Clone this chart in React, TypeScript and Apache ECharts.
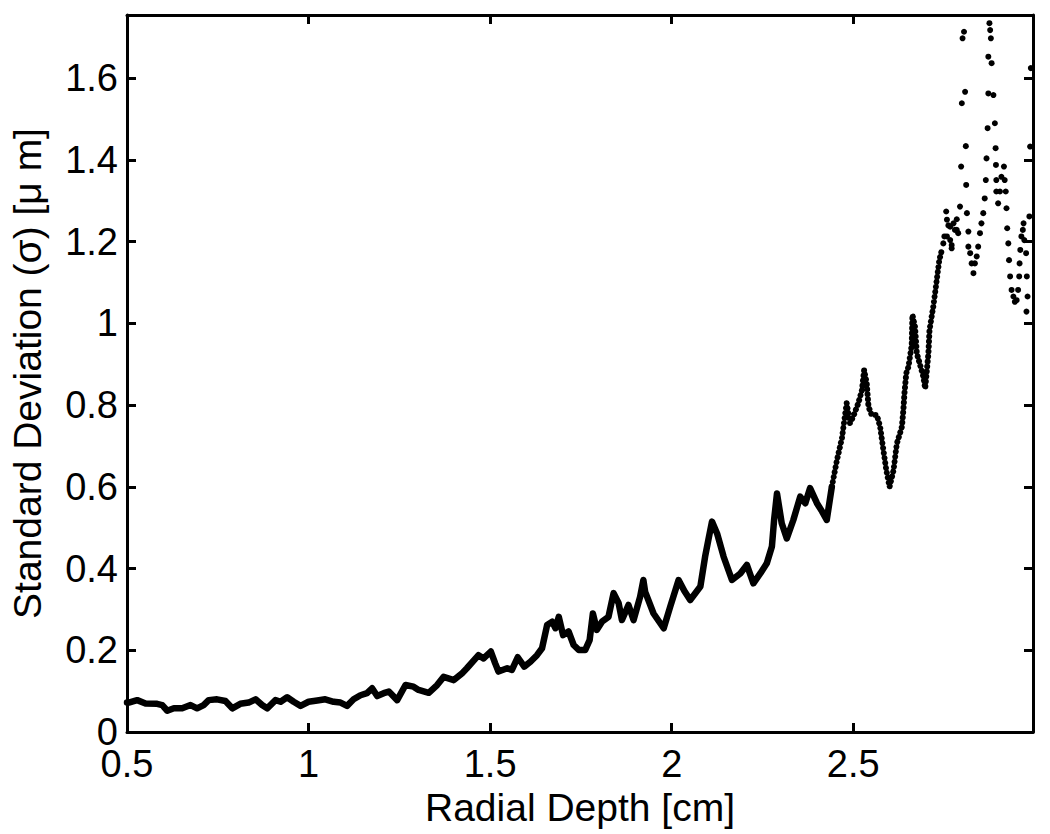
import React, { useEffect, useRef } from "react";
import * as echarts from "echarts";

// Axis definitions
const xMin = 0.5;
const xMax = 2.995;
const xStep = 0.5;
const yMin = 0;
const yMax = 1.755;
const yStep = 0.2;
const xTitle = "Radial Depth [cm]";
const yTitle = "Standard Deviation (σ) [μ m]";

// Dense band (x in cm, sigma in µm)
const denseTrace: [number, number][] = [
  [0.5, 0.072], [0.505, 0.072], [0.528, 0.078], [0.551, 0.07], [0.583, 0.069],
  [0.597, 0.066], [0.611, 0.052], [0.629, 0.058], [0.652, 0.058], [0.675, 0.066],
  [0.693, 0.058], [0.711, 0.066], [0.725, 0.078], [0.748, 0.08], [0.771, 0.076],
  [0.79, 0.058], [0.812, 0.069], [0.835, 0.072], [0.854, 0.08], [0.872, 0.066],
  [0.886, 0.058], [0.909, 0.078], [0.923, 0.074], [0.941, 0.085], [0.959, 0.074],
  [0.978, 0.064], [1.0, 0.074], [1.024, 0.077], [1.046, 0.08], [1.069, 0.074],
  [1.088, 0.072], [1.106, 0.064], [1.124, 0.08], [1.143, 0.09], [1.161, 0.095],
  [1.175, 0.107], [1.189, 0.088], [1.207, 0.095], [1.221, 0.099], [1.244, 0.078],
  [1.267, 0.115], [1.289, 0.111], [1.303, 0.103], [1.331, 0.096], [1.354, 0.115],
  [1.372, 0.135], [1.4, 0.127], [1.423, 0.144], [1.436, 0.156], [1.468, 0.188],
  [1.482, 0.18], [1.502, 0.197], [1.514, 0.168], [1.523, 0.148], [1.547, 0.156],
  [1.56, 0.152], [1.576, 0.183], [1.594, 0.16], [1.611, 0.172], [1.629, 0.188],
  [1.643, 0.205], [1.657, 0.262], [1.671, 0.27], [1.68, 0.254], [1.689, 0.282],
  [1.701, 0.237], [1.716, 0.246], [1.73, 0.213], [1.744, 0.201], [1.762, 0.201],
  [1.774, 0.225], [1.783, 0.29], [1.794, 0.25], [1.808, 0.27], [1.826, 0.282],
  [1.84, 0.34], [1.854, 0.315], [1.863, 0.274], [1.881, 0.311], [1.895, 0.274],
  [1.913, 0.331], [1.922, 0.372], [1.927, 0.343], [1.95, 0.29], [1.978, 0.254],
  [1.996, 0.307], [2.019, 0.372], [2.035, 0.345], [2.051, 0.323], [2.079, 0.356],
  [2.092, 0.429], [2.101, 0.47], [2.111, 0.515], [2.125, 0.486], [2.143, 0.429],
  [2.166, 0.372], [2.189, 0.388], [2.207, 0.409], [2.225, 0.364], [2.244, 0.388],
  [2.262, 0.413], [2.276, 0.454], [2.282, 0.519], [2.29, 0.584], [2.303, 0.511],
  [2.317, 0.474], [2.335, 0.519], [2.354, 0.576], [2.368, 0.56], [2.381, 0.597],
  [2.4, 0.56], [2.414, 0.54], [2.427, 0.519], [2.441, 0.6],
];

// Dotted section where individual markers become visible
const dottedTrace: [number, number][] = [
  [2.441, 0.6], [2.455, 0.665], [2.469, 0.72], [2.478, 0.78], [2.482, 0.805],
  [2.491, 0.756], [2.5, 0.772], [2.514, 0.805], [2.524, 0.837], [2.53, 0.886],
  [2.537, 0.854], [2.542, 0.796], [2.551, 0.776], [2.565, 0.776], [2.574, 0.747],
  [2.583, 0.69], [2.591, 0.641], [2.6, 0.6], [2.611, 0.641], [2.62, 0.706],
  [2.634, 0.747], [2.638, 0.788], [2.641, 0.829], [2.646, 0.878], [2.652, 0.894],
  [2.661, 0.947], [2.663, 1.021], [2.67, 0.992], [2.675, 0.927], [2.683, 0.902],
  [2.693, 0.87], [2.698, 0.841], [2.707, 0.927], [2.71, 0.984], [2.721, 1.045],
  [2.73, 1.107], [2.737, 1.155], [2.744, 1.18],
];

// Sparse individual points at large depth
const sparseDots: [number, number][] = [
  [2.748, 1.196], [2.751, 1.213], [2.756, 1.274], [2.758, 1.254], [2.758, 1.213],
  [2.762, 1.24], [2.767, 1.237], [2.767, 1.204], [2.771, 1.184], [2.771, 1.192],
  [2.776, 1.245], [2.78, 1.229], [2.785, 1.255], [2.785, 1.229], [2.789, 1.221],
  [2.794, 1.286], [2.797, 1.384], [2.799, 1.539], [2.801, 1.698], [2.805, 1.714],
  [2.808, 1.567], [2.81, 1.434], [2.811, 1.339], [2.813, 1.27], [2.817, 1.225],
  [2.817, 1.188], [2.822, 1.172], [2.826, 1.147], [2.831, 1.123], [2.835, 1.147],
  [2.84, 1.164], [2.844, 1.188], [2.849, 1.221], [2.853, 1.245], [2.858, 1.27],
  [2.862, 1.306], [2.865, 1.351], [2.867, 1.404], [2.87, 1.478], [2.872, 1.563],
  [2.872, 1.653], [2.875, 1.735], [2.877, 1.718], [2.879, 1.698], [2.881, 1.637],
  [2.886, 1.559], [2.89, 1.49], [2.892, 1.429], [2.893, 1.388], [2.894, 1.351],
  [2.894, 1.323], [2.899, 1.294], [2.904, 1.323], [2.908, 1.359], [2.915, 1.384],
  [2.917, 1.351], [2.92, 1.323], [2.922, 1.282], [2.924, 1.233], [2.927, 1.196],
  [2.929, 1.155], [2.932, 1.115], [2.936, 1.082], [2.941, 1.066], [2.945, 1.053],
  [2.95, 1.057], [2.954, 1.082], [2.957, 1.115], [2.958, 1.147], [2.96, 1.18],
  [2.963, 1.213], [2.967, 1.229], [2.969, 1.245], [2.971, 1.204], [2.976, 1.172],
  [2.978, 1.115], [2.98, 1.066], [2.977, 1.029], [2.985, 1.262], [2.987, 1.433],
  [2.989, 1.625],
];

const FONT = "'Liberation Sans', Arial, Helvetica, sans-serif";

export default function App() {
  const ref = useRef<HTMLDivElement>(null);

  useEffect(() => {
    if (!ref.current) return;
    const chart = echarts.init(ref.current, undefined, { renderer: "svg" });
    const axisLine = { show: true, onZero: false, lineStyle: { color: "#000", width: 3 } };
    const axisTick = { show: true, inside: true, length: 9, lineStyle: { color: "#000", width: 3 } };
    const labelStyle = { color: "#000", fontSize: 38, fontFamily: FONT };
    const nameStyle = { color: "#000", fontSize: 39, fontFamily: FONT };

    chart.setOption({
      animation: false,
      backgroundColor: "#fff",
      grid: { left: 127, right: 17, top: 15, bottom: 102, containLabel: false },
      xAxis: [
        {
          type: "value", min: xMin, max: xMax, interval: xStep, position: "bottom",
          axisLine, axisTick, splitLine: { show: false },
          axisLabel: { ...labelStyle, margin: 13, showMaxLabel: false },
          name: xTitle, nameLocation: "middle", nameGap: 48, nameTextStyle: nameStyle,
        },
        {
          type: "value", min: xMin, max: xMax, interval: xStep, position: "top",
          axisLine, axisTick, splitLine: { show: false }, axisLabel: { show: false },
        },
      ],
      yAxis: [
        {
          type: "value", min: yMin, max: yMax, interval: yStep, position: "left",
          axisLine, axisTick, splitLine: { show: false },
          axisLabel: { ...labelStyle, margin: 9, showMaxLabel: false },
          name: yTitle, nameLocation: "middle", nameGap: 80, nameTextStyle: nameStyle,
        },
        {
          type: "value", min: yMin, max: yMax, interval: yStep, position: "right",
          axisLine, axisTick, splitLine: { show: false }, axisLabel: { show: false },
        },
      ],
      series: [
        {
          type: "line", xAxisIndex: 0, yAxisIndex: 0, data: denseTrace,
          showSymbol: false, symbol: "none",
          lineStyle: { color: "#000", width: 6.5, join: "round", cap: "round" },
        },
        {
          type: "line", xAxisIndex: 0, yAxisIndex: 0, data: dottedTrace,
          showSymbol: false, symbol: "none",
          lineStyle: { color: "#000", width: 6, type: [0.01, 5], cap: "round", join: "round" },
        },
        {
          type: "scatter", xAxisIndex: 0, yAxisIndex: 0, data: sparseDots,
          symbol: "circle", symbolSize: 6, itemStyle: { color: "#000", opacity: 1 },
        },
      ],
    });
    return () => chart.dispose();
  }, []);

  return (
    <div
      ref={ref}
      style={{ position: "fixed", left: 0, top: 0, width: 1050, height: 834, background: "#fff" }}
    />
  );
}
